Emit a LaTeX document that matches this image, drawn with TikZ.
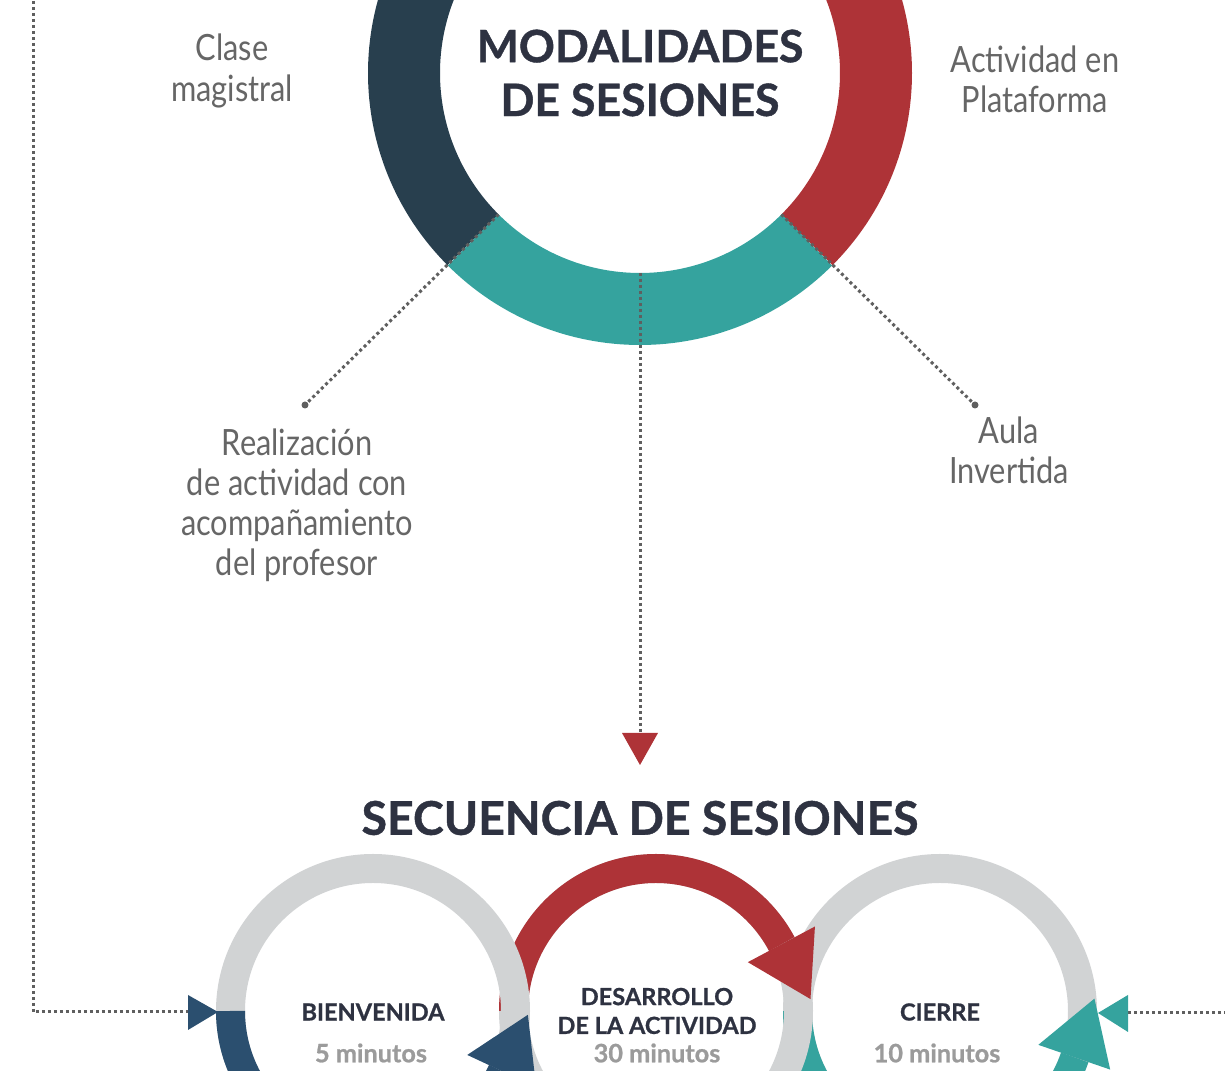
\documentclass[tikz,border=0pt]{standalone}
\usepackage{fontspec}
\setmainfont{Lato}
\newfontfamily\condfont[FakeStretch=0.85]{Lato}
\newfontfamily\heavyfont[BoldFeatures={FakeBold=0.9}]{Lato}
\usetikzlibrary{calc,positioning}

\definecolor{navytop}{HTML}{283F4E}
\definecolor{redarc}{HTML}{AE3337}
\definecolor{tealarc}{HTML}{35A39E}
\definecolor{ringgray}{HTML}{D1D3D4}
\definecolor{navybot}{HTML}{2B4F6F}
\definecolor{titleink}{HTML}{2E3241}
\definecolor{labelink}{HTML}{666666}
\definecolor{timeink}{HTML}{9B9B9B}
\definecolor{dotink}{HTML}{5F5F5F}

\tikzset{
  dotline/.style={dotink, line width=0.3mm, dash pattern=on 0.3mm off 0.3mm},
  modlabel/.style={labelink, align=center, font=\condfont\fontsize{10.3}{11.4}\selectfont},
  bigtitle/.style={titleink, align=center, font=\heavyfont\bfseries\fontsize{12.7}{15.3}\selectfont},
  steptitle/.style={titleink, align=center, font=\heavyfont\bfseries\fontsize{6.7}{8.2}\selectfont},
  steptime/.style={timeink, font=\heavyfont\bfseries\fontsize{7.2}{8.2}\selectfont},
  toparc/.style={line width=7.2mm},
  steparc/.style={line width=2.9mm},
}

% arrow heads on the step rings: centre, angle, colour
\newcommand{\headdown}[3]{\fill[#3] ($(#1)+(#2:104)$) -- ($(#1)+(#2:180)$) -- ($(#1)+(#2:142)+(#2-90:62)$) -- cycle;}
\newcommand{\headup}[3]{\fill[#3] ($(#1)+(#2:104)$) -- ($(#1)+(#2:180)$) -- ($(#1)+(#2:142)+(#2+90:62)$) -- cycle;}

\begin{document}
\begin{tikzpicture}[x=0.1mm, y=-0.1mm]
	\useasboundingbox (0,0) rectangle (1225,1071);
	\clip (0,0) rectangle (1225,1071);

	\coordinate (ring) at (640,73);
	\draw[toparc, navytop] ($(ring)+(135:236)$) arc[start angle=135, end angle=270, radius=236];
	\draw[toparc, redarc] ($(ring)+(45:236)$) arc[start angle=45, end angle=-90, radius=236];
	\draw[toparc, tealarc] ($(ring)+(45:236)$) arc[start angle=45, end angle=135, radius=236];

	\node[bigtitle] (modtitle) at (640,73) {MODALIDADES\\DE SESIONES};
	\node[modlabel] (clase) at (232,71) {Clase\\magistral};
	\node[modlabel] (plataforma) at (1035,79) {Actividad en\\Plataforma};
	\node[modlabel] (realizacion) at (297,505) {Realización\\de actividad con\\acompañamiento\\del profesor};
	\node[modlabel] (aula) at (1009,450) {Aula\\Invertida};

	\coordinate (cornerL) at ($(ring)+(135:200)$);
	\coordinate (cornerR) at ($(ring)+(45:200)$);
	\coordinate (cornerB) at ($(ring)+(90:200)$);
	\coordinate (endL) at (305,405);
	\coordinate (endR) at (975,405);
	\coordinate (seqtip) at (640,735);
	\draw[dotline] (cornerL) -- (endL);
	\draw[dotline] (cornerR) -- (endR);
	\draw[dotline] (cornerB) -- (seqtip);
	\fill[dotink] (endL) circle (3.5);
	\fill[dotink] (endR) circle (3.5);
	\fill[redarc] (622,733) -- (658,733) -- (640,765) -- cycle;

	\node[bigtitle, font=\heavyfont\bfseries\fontsize{13.2}{15.3}\selectfont] (seqtitle) at (640,818) {SECUENCIA DE SESIONES};

	\coordinate (stepR) at (940,1011);
	\coordinate (stepM) at (656,1011);
	\coordinate (stepL) at (373,1011);

	\draw[steparc, ringgray] (stepR) circle (142.5);
	\draw[steparc, tealarc] ($(stepR)+(180:142.5)$) arc[start angle=180, end angle=19, radius=142.5];
	\headdown{stepR}{19}{tealarc}

	\draw[steparc, ringgray] (stepM) circle (142.5);
	\draw[steparc, redarc] ($(stepM)+(180:142.5)$) arc[start angle=180, end angle=332, radius=142.5];
	\headup{stepM}{332}{redarc}

	\draw[steparc, ringgray] (stepL) circle (142.5);
	\draw[steparc, navybot] ($(stepL)+(180:142.5)$) arc[start angle=180, end angle=25, radius=142.5];
	\headdown{stepL}{25}{navybot}

	\node[steptitle] (bienvenida) at (373,1012) {BIENVENIDA};
	\node[steptime] (bienvtime) at (371,1053) {5 minutos};
	\node[steptitle] (desarrollo) at (657,1011) {DESARROLLO\\DE LA ACTIVIDAD};
	\node[steptime] (desarrtime) at (657,1053) {30 minutos};
	\node[steptitle] (cierre) at (940,1012) {CIERRE};
	\node[steptime] (cierretime) at (937,1053) {10 minutos};

	\coordinate (leftin) at (188,1012);
	\coordinate (rightin) at (1128,1013);
	\draw[dotline] (33,-5) |- (leftin);
	\draw[dotline] (rightin) -- (1230,1013);
	\fill[navybot] (188,995) -- (218,1012) -- (188,1030) -- cycle;
	\fill[tealarc] (1128,995) -- (1098,1013) -- (1128,1032) -- cycle;
\end{tikzpicture}
\end{document}
